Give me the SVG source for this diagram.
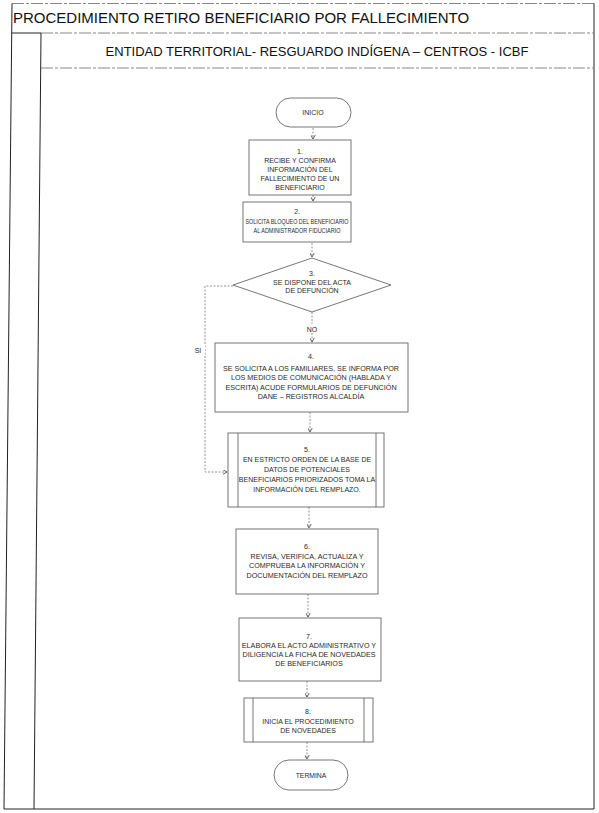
<svg xmlns="http://www.w3.org/2000/svg" width="599" height="813" viewBox="0 0 599 813">
<style>
.fr{stroke:#222;stroke-width:1;fill:none}
.fa{stroke:#888;stroke-width:1;fill:none;stroke-dasharray:12,2,3,2}
.nd{fill:#fff;stroke:#666;stroke-width:0.9}
.ln{stroke:#666;stroke-width:0.9;fill:none}
.t{font-family:"Liberation Sans",Arial,sans-serif;fill:#2a2a2a;text-anchor:middle}
.cn{stroke:#777;stroke-width:0.8;fill:none;stroke-dasharray:2,1.5;marker-end:url(#arr)}
.lb{font-family:"Liberation Sans",Arial,sans-serif;fill:#2a2a2a;font-size:7px;text-anchor:middle}
</style>
<defs>
<marker id="arr" viewBox="0 0 5 5" refX="4.5" refY="2.5" markerWidth="5" markerHeight="5" markerUnits="userSpaceOnUse" orient="auto">
<path d="M0,0 L4.5,2.5 L0,5" fill="none" stroke="#555" stroke-width="0.9"/>
</marker>
</defs>
<rect width="599" height="813" fill="#fff"/>
<g id="frame">
<path class="fa" d="M12,3.5 H594"/>
<path class="fr" d="M12,3.5 L4,809 H594 V3.5"/>
<path class="fa" d="M41,33 H594"/>
<path class="fr" d="M12,33 H41"/>
<path class="fr" d="M41,33 L34,809"/>
<path class="fa" d="M41,68 H594"/>
<text x="13" y="23" font-family="Liberation Sans, Arial, sans-serif" font-size="15" fill="#111">PROCEDIMIENTO RETIRO BENEFICIARIO POR FALLECIMIENTO</text>
<text x="317" y="56" font-family="Liberation Sans, Arial, sans-serif" font-size="13" fill="#111" text-anchor="middle">ENTIDAD TERRITORIAL- RESGUARDO INDÍGENA – CENTROS - ICBF</text>
</g>
<g id="connectors">
<path class="cn" d="M313,128 V139"/>
<path class="cn" d="M313,195 V201"/>
<path class="cn" d="M312,243 V257"/>
<path class="cn" d="M312,312 V342"/>
<path class="cn" d="M233,286 H205 V472 H227"/>
<path class="cn" d="M310,412 V432"/>
<path class="cn" d="M309,507 V528"/>
<path class="cn" d="M308,594 V617"/>
<path class="cn" d="M307,681 V697"/>
<path class="cn" d="M307,742 V759"/>
<rect x="304" y="324" width="16" height="9" fill="#fff"/>
<text class="lb" x="312" y="331.5">NO</text>
<rect x="193" y="344" width="12" height="10" fill="#fff"/>
<text class="lb" x="198" y="352.5">SI</text>
</g>
<g id="n0">
<rect class="nd" x="276" y="98" width="75" height="29" rx="14.5"/>
<text class="t" x="313" y="115" font-size="7">INICIO</text>
</g>
<g id="n1">
<rect class="nd" x="249" y="140" width="102" height="55"/>
<text class="t" font-size="7"><tspan x="300" y="153.5">1.</tspan><tspan x="300" y="163">RECIBE Y CONFIRMA</tspan><tspan x="300" y="172">INFORMACIÓN DEL</tspan><tspan x="300" y="181">FALLECIMIENTO DE UN</tspan><tspan x="300" y="190">BENEFICIARIO</tspan></text>
</g>
<g id="n2">
<rect class="nd" x="243" y="202" width="108" height="40"/>
<text class="t" font-size="6.8" x="297" y="214">2.</text>
<text class="t" font-size="6.8" x="297" y="223.5" textLength="103" lengthAdjust="spacingAndGlyphs">SOLICITA BLOQUEO DEL BENEFICIARIO</text>
<text class="t" font-size="6.8" x="297" y="232.5" textLength="87" lengthAdjust="spacingAndGlyphs">AL ADMINISTRADOR FIDUCIARIO</text>
</g>
<g id="n3">
<polygon class="nd" points="312,258 391,285 312,312 233,285"/>
<text class="t" font-size="7"><tspan x="312" y="276">3.</tspan><tspan x="312" y="284.5">SE DISPONE DEL ACTA</tspan><tspan x="312" y="293">DE DEFUNCIÓN</tspan></text>
</g>
<g id="n4">
<rect class="nd" x="215" y="343" width="193" height="69"/>
<text class="t" font-size="7.2"><tspan x="311" y="358.5">4.</tspan><tspan x="311" y="370.5">SE SOLICITA A LOS FAMILIARES, SE INFORMA POR</tspan><tspan x="311" y="380">LOS MEDIOS DE COMUNICACIÓN (HABLADA Y</tspan><tspan x="311" y="389.5">ESCRITA) ACUDE FORMULARIOS DE DEFUNCIÓN</tspan><tspan x="311" y="399">DANE – REGISTROS ALCALDÍA</tspan></text>
</g>
<g id="n5">
<rect class="nd" x="228" y="433" width="156" height="74"/>
<path class="ln" d="M238,433 V507 M376,433 V507"/>
<text class="t" font-size="7"><tspan x="307" y="451.5">5.</tspan><tspan x="307" y="461.5">EN ESTRICTO ORDEN DE LA BASE DE</tspan><tspan x="307" y="471.5">DATOS DE POTENCIALES</tspan><tspan x="307" y="481.5">BENEFICIARIOS PRIORIZADOS TOMA LA</tspan><tspan x="307" y="491.5">INFORMACIÓN DEL REMPLAZO.</tspan></text>
</g>
<g id="n6">
<rect class="nd" x="236" y="529" width="142" height="65"/>
<text class="t" font-size="7.2"><tspan x="307" y="548.5">6.</tspan><tspan x="307" y="558.5">REVISA, VERIFICA, ACTUALIZA Y</tspan><tspan x="307" y="568">COMPRUEBA LA INFORMACIÓN Y</tspan><tspan x="307" y="577.5">DOCUMENTACIÓN DEL REMPLAZO</tspan></text>
</g>
<g id="n7">
<rect class="nd" x="239" y="618" width="142" height="63"/>
<text class="t" font-size="7.2"><tspan x="309" y="638.5">7.</tspan><tspan x="309" y="648">ELABORA EL ACTO ADMINISTRATIVO Y</tspan><tspan x="309" y="657">DILIGENCIA LA FICHA DE NOVEDADES</tspan><tspan x="309" y="666">DE BENEFICIARIOS</tspan></text>
</g>
<g id="n8">
<rect class="nd" x="244" y="698" width="129" height="44"/>
<path class="ln" d="M253,698 V742 M364,698 V742"/>
<text class="t" font-size="7"><tspan x="308" y="713.5">8.</tspan><tspan x="308" y="723.5">INICIA EL PROCEDIMIENTO</tspan><tspan x="308" y="733">DE NOVEDADES</tspan></text>
</g>
<g id="n9">
<rect class="nd" x="274" y="760" width="74" height="30" rx="15"/>
<text class="t" x="311" y="777.5" font-size="6.8">TERMINA</text>
</g>
</svg>
